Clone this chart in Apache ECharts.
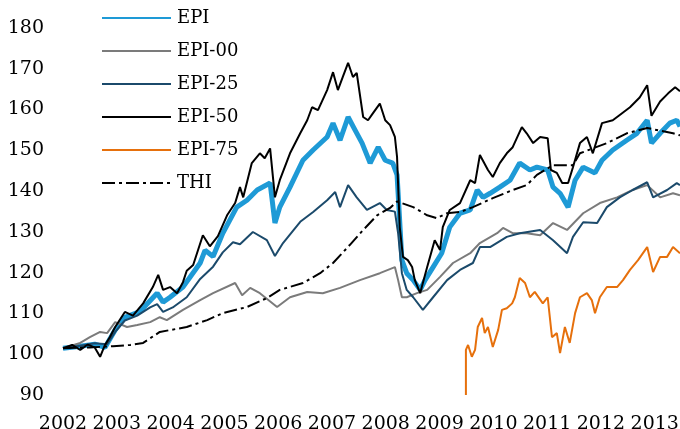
<!DOCTYPE html>
<html>
<head>
<meta charset="utf-8">
<script src="https://cdn.jsdelivr.net/npm/echarts@6/dist/echarts.min.js"></script>
<style>
  html, body { margin: 0; padding: 0; background: #fff; }
  #chart { width: 680px; height: 429px; }
</style>
</head>
<body>
<div id="chart"></div>
<script>
// x = year (decimal), y = index value (start = 100)
var epi = [
  [2002.00,100.0],[2002.32,100.5],[2002.59,101.0],[2002.78,100.2],[2002.97,104.5],[2003.15,107.6],
  [2003.43,109.0],[2003.75,113.5],[2003.86,111.3],[2003.99,112.5],[2004.23,115.0],[2004.55,120.9],
  [2004.64,124.0],[2004.79,122.5],[2004.97,128.2],[2005.23,134.6],[2005.42,136.3],[2005.61,138.8],
  [2005.85,140.5],[2005.94,130.7],[2006.03,134.6],[2006.22,139.5],[2006.46,146.1],[2006.65,148.6],
  [2006.91,151.8],[2007.02,155.2],[2007.15,151.0],[2007.30,156.7],[2007.43,153.5],[2007.56,150.3],
  [2007.71,145.4],[2007.86,149.3],[2007.99,146.1],[2008.13,145.4],[2008.21,142.5],[2008.23,138.0],
  [2008.30,121.6],[2008.39,118.4],[2008.51,116.7],[2008.64,114.3],[2008.73,116.7],[2008.88,119.9],
  [2009.04,123.3],[2009.19,129.7],[2009.38,133.1],[2009.57,133.9],[2009.70,138.8],[2009.81,137.0],
  [2009.94,138.0],[2010.12,139.5],[2010.31,141.2],[2010.49,145.4],[2010.68,143.7],[2010.81,144.4],
  [2011.01,143.7],[2011.11,139.5],[2011.24,138.0],[2011.39,134.6],[2011.52,141.2],[2011.67,144.4],
  [2011.89,143.0],[2012.02,146.1],[2012.22,148.6],[2012.48,151.0],[2012.67,152.7],[2012.86,155.9],
  [2012.94,150.3],[2013.10,152.7],[2013.28,155.2],[2013.41,155.9],[2013.47,154.4]
];
var epi00 = [
  [2002.00,100.0],[2002.32,101.3],[2002.50,102.7],[2002.69,104.0],[2002.82,103.7],[2002.97,106.4],
  [2003.19,105.2],[2003.38,105.7],[2003.62,106.4],[2003.80,107.6],[2003.93,106.9],[2004.23,109.4],
  [2004.55,111.8],[2004.79,113.5],[2005.20,116.0],[2005.33,113.0],[2005.48,114.8],[2005.66,113.5],
  [2005.98,110.1],[2006.22,112.5],[2006.54,113.8],[2006.83,113.5],[2007.15,114.8],[2007.52,116.7],
  [2007.89,118.4],[2008.17,119.9],[2008.23,116.7],[2008.30,112.5],[2008.39,112.5],[2008.58,113.5],
  [2008.77,114.3],[2009.01,117.5],[2009.25,120.9],[2009.57,123.3],[2009.75,125.8],[2010.07,128.2],
  [2010.18,129.5],[2010.36,128.2],[2010.62,128.2],[2010.87,127.7],[2011.11,130.7],[2011.37,129.0],
  [2011.67,133.1],[2011.98,135.6],[2012.30,137.0],[2012.59,138.8],[2012.86,140.0],[2013.10,137.0],
  [2013.34,138.0],[2013.47,137.5]
];
var epi25 = [
  [2002.00,100.0],[2002.32,100.6],[2002.59,101.2],[2002.82,101.0],[2002.97,104.0],[2003.15,106.8],
  [2003.38,108.0],[2003.62,110.0],[2003.75,110.8],[2003.86,108.9],[2004.04,110.0],[2004.30,112.5],
  [2004.55,117.0],[2004.79,120.0],[2004.97,123.5],[2005.16,126.0],[2005.29,125.5],[2005.53,128.5],
  [2005.79,126.5],[2005.94,122.6],[2006.09,125.8],[2006.41,131.0],[2006.65,133.4],[2006.91,136.3],
  [2007.06,138.3],[2007.15,134.6],[2007.30,140.0],[2007.46,137.0],[2007.65,133.9],[2007.89,135.6],
  [2008.02,133.9],[2008.17,133.5],[2008.23,128.2],[2008.30,118.4],[2008.39,114.3],[2008.51,112.5],
  [2008.69,109.4],[2008.88,112.5],[2009.14,116.7],[2009.38,119.2],[2009.62,120.9],[2009.75,124.8],
  [2009.94,124.8],[2010.25,127.3],[2010.49,128.2],[2010.87,129.0],[2011.11,126.5],[2011.37,123.3],
  [2011.48,127.3],[2011.67,130.9],[2011.93,130.7],[2012.11,134.6],[2012.35,137.0],[2012.59,138.8],
  [2012.86,140.7],[2012.97,137.0],[2013.23,138.8],[2013.41,140.5],[2013.47,140.0]
];
var epi50 = [
  [2002.00,100.0],[2002.17,100.8],[2002.32,99.6],[2002.46,100.9],[2002.59,100.2],[2002.69,97.9],
  [2002.78,100.8],[2002.87,102.7],[2002.97,105.2],[2003.15,108.9],[2003.30,108.0],[2003.49,111.0],
  [2003.67,115.0],[2003.77,118.0],[2003.86,114.3],[2003.99,115.0],[2004.12,113.5],[2004.23,116.2],
  [2004.30,119.0],[2004.42,120.4],[2004.60,127.7],[2004.73,125.0],[2004.88,127.5],[2005.05,132.6],
  [2005.20,135.6],[2005.29,139.5],[2005.35,137.0],[2005.51,145.4],[2005.66,147.8],[2005.75,146.6],
  [2005.85,149.0],[2005.94,137.0],[2006.03,141.2],[2006.22,147.8],[2006.41,152.7],[2006.54,155.9],
  [2006.63,159.1],[2006.74,158.4],[2006.91,163.3],[2007.02,167.7],[2007.11,163.3],[2007.20,166.5],
  [2007.30,170.0],[2007.39,166.5],[2007.46,167.5],[2007.58,156.7],[2007.67,155.9],[2007.76,157.6],
  [2007.89,160.0],[2007.99,155.9],[2008.08,154.7],[2008.17,151.8],[2008.21,146.9],[2008.26,129.7],
  [2008.32,122.4],[2008.41,121.6],[2008.49,119.9],[2008.54,116.7],[2008.64,113.5],[2008.67,115.0],
  [2008.77,119.9],[2008.91,126.5],[2009.01,124.1],[2009.06,129.7],[2009.19,133.9],[2009.38,135.6],
  [2009.57,141.2],[2009.66,140.5],[2009.75,147.4],[2009.90,143.7],[2009.99,142.0],[2010.12,145.4],
  [2010.25,147.8],[2010.36,149.3],[2010.53,154.2],[2010.62,152.7],[2010.74,150.3],[2010.87,151.8],
  [2011.01,151.5],[2011.07,143.7],[2011.18,143.0],[2011.28,140.5],[2011.39,140.5],[2011.48,144.4],
  [2011.61,150.3],[2011.74,151.8],[2011.85,147.8],[2012.02,155.2],[2012.22,155.9],[2012.35,157.2],
  [2012.54,159.1],[2012.72,161.5],[2012.86,164.5],[2012.94,157.0],[2013.10,160.5],[2013.25,162.5],
  [2013.38,164.0],[2013.47,163.0]
];
var epi75 = [
  [2009.49,88.5],[2009.49,99.6],[2009.53,100.8],[2009.60,97.9],[2009.66,99.6],[2009.71,105.2],
  [2009.79,107.4],[2009.84,103.7],[2009.90,105.2],[2009.99,100.3],[2010.09,104.5],[2010.16,109.4],
  [2010.25,109.8],[2010.35,111.0],[2010.40,112.5],[2010.49,117.2],[2010.59,116.0],[2010.68,112.5],
  [2010.77,113.8],[2010.92,111.0],[2011.01,112.5],[2011.09,102.7],[2011.18,103.7],[2011.24,98.8],
  [2011.33,105.2],[2011.42,101.3],[2011.52,108.6],[2011.61,112.5],[2011.74,113.5],[2011.83,111.8],
  [2011.89,108.6],[2011.98,112.5],[2012.11,115.0],[2012.30,115.0],[2012.41,116.7],[2012.54,119.2],
  [2012.69,121.6],[2012.86,124.8],[2012.97,118.7],[2013.10,122.4],[2013.23,122.4],[2013.34,124.8],
  [2013.47,123.3]
];
var thi = [
  [2002.00,100.0],[2002.50,100.2],[2002.93,100.5],[2003.25,100.8],[2003.49,101.3],[2003.80,104.0],
  [2004.30,105.2],[2004.68,106.9],[2004.97,108.6],[2005.42,110.1],[2005.79,112.3],[2006.03,114.3],
  [2006.46,116.0],[2006.78,118.4],[2007.02,120.9],[2007.33,125.3],[2007.58,129.0],[2007.84,132.6],
  [2008.08,134.4],[2008.21,136.0],[2008.51,134.6],[2008.77,132.6],[2008.95,131.9],[2009.14,133.1],
  [2009.38,133.4],[2009.62,134.6],[2009.99,136.8],[2010.36,138.8],[2010.62,140.0],[2010.81,142.5],
  [2011.11,144.9],[2011.48,144.9],[2011.61,147.8],[2012.11,150.3],[2012.48,152.7],[2012.86,154.0],
  [2013.34,152.7],[2013.47,152.2]
];
var seriesNames = ['EPI', 'EPI-00', 'EPI-25', 'EPI-50', 'EPI-75', 'THI'];

var font = 'DejaVu Serif';
var chart = echarts.init(document.getElementById('chart'));

function line(name, data, color, width, dash, noClip) {
  return {
    name: name,
    type: 'line',
    data: data,
    symbol: 'none',
    clip: !noClip,
    lineStyle: { color: color, width: width, type: dash || 'solid' },
    itemStyle: { color: color },
    emphasis: { disabled: true }
  };
}

chart.setOption({
  animation: false,
  grid: { left: 63, right: 0, top: 22, bottom: 40, containLabel: false, outerBoundsMode: 'none' },
  legend: {
    orient: 'vertical',
    left: 96,
    top: 3,
    itemWidth: 69,
    itemHeight: 14,
    itemGap: 13,
    selectedMode: false,
    data: seriesNames,
    itemStyle: { opacity: 0 },
    textStyle: { fontFamily: font, fontSize: 18, color: '#000', lineHeight: 20, padding: [0, 0, 0, 1] }
  },
  xAxis: {
    type: 'value',
    min: 2002,
    max: 2013.47,
    interval: 1,
    axisLine: { show: false },
    axisTick: { show: false },
    splitLine: { show: false },
    axisLabel: {
      fontFamily: font, fontSize: 19, color: '#000', margin: 20,
      verticalAlign: 'top', lineHeight: 30,
      showMaxLabel: false,
      formatter: function (v) { return Math.abs(v - Math.round(v)) < 1e-6 ? String(Math.round(v)) : ''; }
    }
  },
  yAxis: {
    type: 'value',
    min: 90,
    max: 180,
    interval: 10,
    axisLine: { show: false },
    axisTick: { show: false },
    splitLine: { show: false },
    axisLabel: { fontFamily: font, fontSize: 19, color: '#000', margin: 19, verticalAlign: 'top', lineHeight: 12 }
  },
  series: [
    line('EPI', epi, '#1e9ad6', 5),
    line('EPI-00', epi00, '#7b7b7b', 2),
    line('EPI-25', epi25, '#1b4a6b', 2),
    line('EPI-50', epi50, '#000000', 2),
    line('EPI-75', epi75, '#e6700c', 2, null, true),
    line('THI', thi, '#000000', 2, [13, 4, 3, 4])
  ]
});
</script>
</body>
</html>
